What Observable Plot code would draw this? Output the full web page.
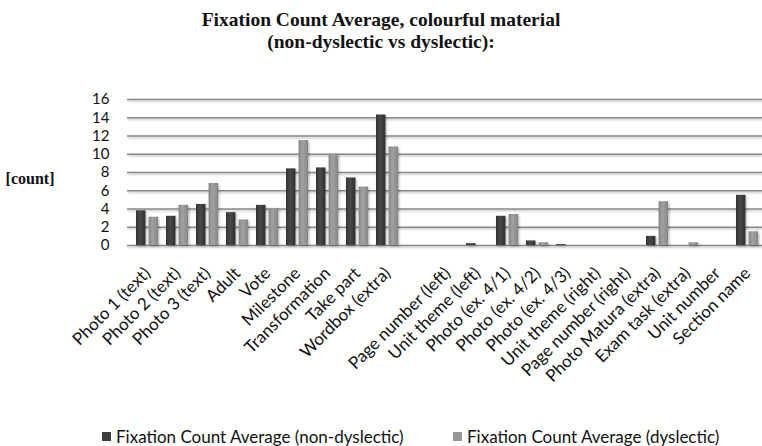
<!DOCTYPE html>
<html>
<head>
<meta charset="utf-8">
<script src="https://cdn.jsdelivr.net/npm/d3@7"></script>
<script src="https://cdn.jsdelivr.net/npm/@observablehq/plot@0.6"></script>
<style>
  html, body { margin: 0; padding: 0; background: #fff; width: 762px; height: 446px; overflow: hidden; }
  #title {
    position: relative; height: 60px;
    font-family: "Liberation Serif", "Times New Roman", serif; font-weight: bold;
    font-size: 19.5px; line-height: 22px; color: #111;
  }
  #title div { position: absolute; left: 381px; transform: translateX(-50%); white-space: nowrap; }
  #chart svg { display: block; }
  #legend { position: relative; height: 41px; font-family: Lato, "Open Sans", sans-serif; font-size: 17px; color: #111; }
  #legend .item { position: absolute; top: 21px; white-space: nowrap; display: flex; align-items: center; }
  #legend .sw { width: 9px; height: 9px; margin-right: 5px; }
</style>
</head>
<body>
<div id="title">
  <div style="top:9px">Fixation Count Average, colourful material</div>
  <div style="top:31px">(non-dyslectic vs dyslectic):</div>
</div>
<div id="chart"></div>
<div id="legend"></div>
<script>
// Areas of interest on the page; the empty entry separates the two groups.
const categories = [
  "Photo 1 (text)", "Photo 2 (text)", "Photo 3 (text)", "Adult", "Vote",
  "Milestone", "Transformation", "Take part", "Wordbox (extra)", "",
  "Page number (left)", "Unit theme (left)", "Photo (ex. 4/1)", "Photo (ex. 4/2)",
  "Photo (ex. 4/3)", "Unit theme (right)", "Page number (right)",
  "Photo Matura (extra)", "Exam task (extra)", "Unit number", "Section name"
];
const nonDyslectic = [3.8, 3.2, 4.5, 3.6, 4.4, 8.4, 8.5, 7.4, 14.3, null,
  0, 0.2, 3.2, 0.5, 0.1, 0, 0, 1.0, 0, 0, 5.5];
const dyslectic = [3.1, 4.4, 6.8, 2.8, 4.0, 11.5, 10.0, 6.4, 10.8, null,
  0, 0, 3.4, 0.3, 0, 0, 0, 4.8, 0.3, 0, 1.5];
const seriesNames = ["Fixation Count Average (non-dyslectic)", "Fixation Count Average (dyslectic)"];
const yTicks = [0, 2, 4, 6, 8, 10, 12, 14, 16];
const yLabel = "[count]";

const rows = categories.flatMap((c, i) => [
  {category: c, series: seriesNames[0], value: nonDyslectic[i]},
  {category: c, series: seriesNames[1], value: dyslectic[i]}
]).filter(d => d.value > 0);

// Shaded fills and a soft shadow for the bars.
const defs = () => {
  const g = d3.create("svg:defs");
  const grad = (id, stops) => {
    const lg = g.append("linearGradient").attr("id", id).attr("x1", 0).attr("x2", 1).attr("y1", 0).attr("y2", 0);
    stops.forEach(([o, c]) => lg.append("stop").attr("offset", o).attr("stop-color", c));
  };
  grad("gDark", [[0, "#333"], [0.45, "#4a4a4a"], [1, "#2f2f2f"]]);
  grad("gLight", [[0, "#878787"], [0.45, "#a2a2a2"], [1, "#858585"]]);
  const f = g.append("filter").attr("id", "shadow").attr("x", "-30%").attr("y", "-10%").attr("width", "160%").attr("height", "130%");
  f.append("feDropShadow").attr("dx", 1.2).attr("dy", 1.2).attr("stdDeviation", 1.1)
    .attr("flood-color", "#000").attr("flood-opacity", 0.3);
  return g.node();
};

const bandInset = 12.57;

const chart = Plot.plot({
  width: 762,
  height: 345,
  marginTop: 39,
  marginBottom: 160,
  marginLeft: 127,
  marginRight: 0,
  style: {fontFamily: "Lato, 'Open Sans', sans-serif", fontSize: "17px", color: "#111", background: "transparent"},
  x: {
    domain: categories, range: [127, 767.5], paddingInner: 0.26, paddingOuter: 0.13,
    tickRotate: -45, tickSize: 0, tickPadding: 25, label: null
  },
  y: {domain: [0, 16], ticks: 8, tickSize: 0, tickPadding: 18, label: null},
  marks: [
    defs,
    Plot.ruleY(yTicks, {stroke: "#8a8a8a", strokeWidth: 1.6}),
    Plot.barY(rows.filter(d => d.series === seriesNames[0]),
      {x: "category", y: "value", fill: "url(#gDark)", insetRight: bandInset}),
    Plot.barY(rows.filter(d => d.series === seriesNames[1]),
      {x: "category", y: "value", fill: "url(#gLight)", insetLeft: bandInset}),
    Plot.text([yLabel], {
      frameAnchor: "left", dx: -73, dy: 6.5, textAnchor: "end",
      fontFamily: "'Liberation Serif', 'Times New Roman', serif", fontWeight: "bold", fontSize: 16, fill: "#111"
    })
  ]
});

const svg = d3.select(chart);
svg.selectAll("g[aria-label=bar]").attr("filter", "url(#shadow)");
svg.select("g[aria-label=rule]").attr("filter", "url(#shadow)");
svg.selectAll("g[aria-label^='y-axis']").attr("font-size", 15).selectAll("text").attr("font-size", 15);
document.getElementById("chart").appendChild(chart);

// Legend below the chart.
const legend = d3.select("#legend");
const swatchColors = ["#3e3e3e", "#989898"];
const legendX = [102, 453];
seriesNames.forEach((name, i) => {
  const item = legend.append("div").attr("class", "item").style("left", legendX[i] + "px");
  item.append("div").attr("class", "sw").style("background", swatchColors[i]);
  item.append("span").text(name);
});
</script>
</body>
</html>
